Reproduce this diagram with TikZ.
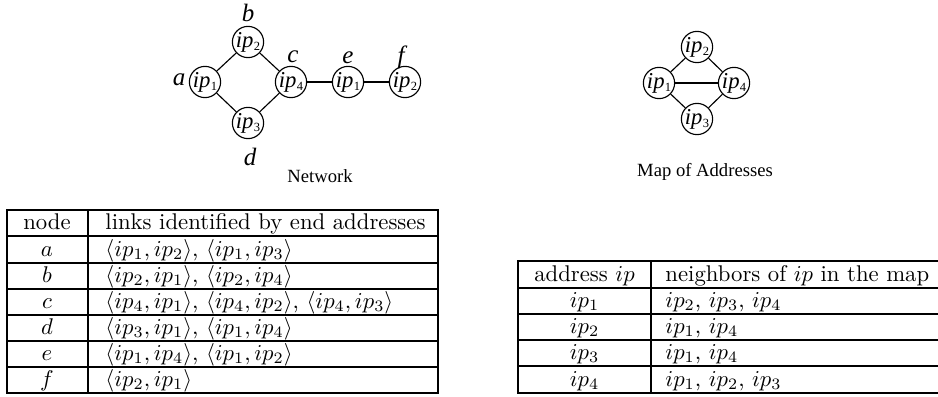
\documentclass[tikz,border=0pt]{standalone}
\usepackage{fontspec}
\newfontfamily\tms{Liberation Serif}
\newcommand\ipl[1]{{\tms\fontsize{10}{10}\selectfont\textit{ip}\kern0.1pt\raisebox{-0.3ex}{\fontsize{5.5}{5.5}\selectfont #1}}}
\begin{document}
\begin{tikzpicture}[x=0.44pt,y=-0.44pt,
  gnode/.style={circle,draw,line width=0.5pt,minimum size=12.3pt,inner sep=0pt},
  mnode/.style={circle,draw,line width=0.5pt,minimum size=12.8pt,inner sep=0pt},
  glabel/.style={inner sep=0pt,font=\tms\fontsize{11}{11}\selectfont\itshape},
  caption/.style={inner sep=0pt,font=\tms\fontsize{8.2}{8.2}\selectfont},
  edge/.style={line width=0.5pt},
  grid/.style={line width=0.8pt},
  cell/.style={inner sep=0pt,anchor=base},
  lcell/.style={inner sep=0pt,anchor=base west}]
\useasboundingbox (0,0) rectangle (938,396);
% Network
\node[gnode] (na) at (205,82) {\ipl{1}};
\node[gnode] (nb) at (248,42) {\ipl{2}};
\node[gnode] (nc) at (291,82) {\ipl{4}};
\node[gnode] (nd) at (248,123) {\ipl{3}};
\node[gnode] (ne) at (348,82) {\ipl{1}};
\node[gnode] (nf) at (405,82) {\ipl{2}};
\draw[edge] (na) -- (nb);
\draw[edge] (na) -- (nd);
\draw[edge] (nb) -- (nc);
\draw[edge] (nd) -- (nc);
\draw[edge] (nc) -- (ne);
\draw[edge] (ne) -- (nf);
\node[glabel] (la) at (179,80) {a};
\node[glabel] (lb) at (248,13) {b};
\node[glabel] (lc) at (293,57) {c};
\node[glabel] (le) at (348,58) {e};
\node[glabel] (lf) at (401,57) {f};
\node[glabel] (ld) at (250,157) {d};
\node[caption] (cnet) at (320,176) {Network};
% Map of addresses
\node[mnode] (m2) at (697,47) {\ipl{2}};
\node[mnode] (m1) at (659,83) {\ipl{1}};
\node[mnode] (m4) at (734,83) {\ipl{4}};
\node[mnode] (m3) at (697,119) {\ipl{3}};
\draw[edge] (m1) -- (m2);
\draw[edge] (m2) -- (m4);
\draw[edge] (m1) -- (m4);
\draw[edge] (m1) -- (m3);
\draw[edge] (m3) -- (m4);
\node[caption] (cmap) at (705,172) {Map of Addresses};
% Table 1
\draw[grid] (7,210) rectangle (438,393);
\draw[grid] (88,210) -- (88,393);
\foreach \yy in {236,263,289,315,341,367} \draw[grid] (7,\yy) -- (438,\yy);
\node[cell] (t1h1) at (47,229) {node};
\node[lcell] (t1h2) at (105,229) {links identified by end addresses};
\node[cell] (t1a) at (47,256) {$a$};
\node[lcell] (t1av) at (105,256) {$\langle ip_1,ip_2\rangle$, $\langle ip_1,ip_3\rangle$};
\node[cell] (t1b) at (47,282) {$b$};
\node[lcell] (t1bv) at (105,282) {$\langle ip_2,ip_1\rangle$, $\langle ip_2,ip_4\rangle$};
\node[cell] (t1c) at (47,308) {$c$};
\node[lcell] (t1cv) at (105,308) {$\langle ip_4,ip_1\rangle$, $\langle ip_4,ip_2\rangle$, $\langle ip_4,ip_3\rangle$};
\node[cell] (t1d) at (47,334) {$d$};
\node[lcell] (t1dv) at (105,334) {$\langle ip_3,ip_1\rangle$, $\langle ip_1,ip_4\rangle$};
\node[cell] (t1e) at (47,360) {$e$};
\node[lcell] (t1ev) at (105,360) {$\langle ip_1,ip_4\rangle$, $\langle ip_1,ip_2\rangle$};
\node[cell] (t1f) at (47,386) {$f$};
\node[lcell] (t1fv) at (105,386) {$\langle ip_2,ip_1\rangle$};
% Table 2
\draw[grid] (938,261) -- (518,261) -- (518,393) -- (938,393);
\draw[grid] (651,261) -- (651,393);
\foreach \yy in {288,314,340,366} \draw[grid] (518,\yy) -- (938,\yy);
\node[cell] (t2h1) at (584.5,281) {address $ip$};
\node[lcell] (t2h2) at (665,281) {neighbors of $ip$ in the map};
\node[cell] (t2a) at (584.5,307) {$ip_1$};
\node[lcell] (t2av) at (665,307) {$ip_2$, $ip_3$, $ip_4$};
\node[cell] (t2b) at (584.5,333) {$ip_2$};
\node[lcell] (t2bv) at (665,333) {$ip_1$, $ip_4$};
\node[cell] (t2c) at (584.5,359) {$ip_3$};
\node[lcell] (t2cv) at (665,359) {$ip_1$, $ip_4$};
\node[cell] (t2d) at (584.5,386) {$ip_4$};
\node[lcell] (t2dv) at (665,386) {$ip_1$, $ip_2$, $ip_3$};
\end{tikzpicture}
\end{document}
